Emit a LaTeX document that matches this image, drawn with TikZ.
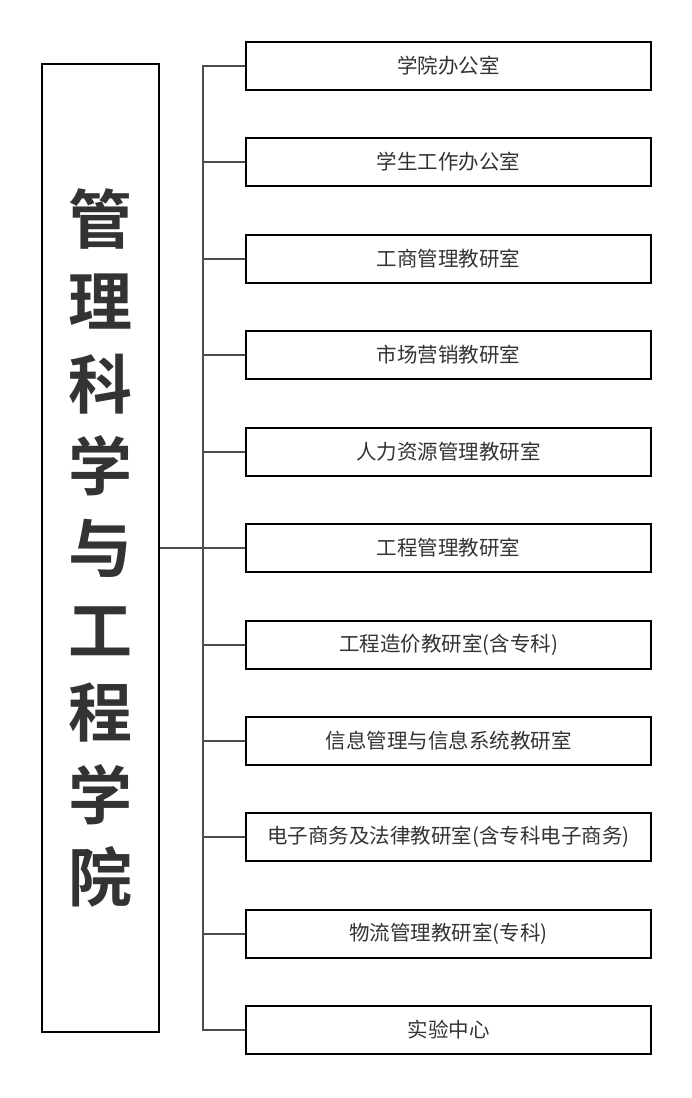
\documentclass[tikz,border=0pt]{standalone}
\usepackage{fontspec}
\newfontfamily\cjk{Noto Sans CJK SC}
\newfontfamily\cjkheavy{Noto Sans CJK SC Bold}
\tikzset{
  dept/.style={draw, line width=2pt, minimum width=405pt, minimum height=48pt,
    text=black!80, font=\cjk\fontsize{20.5}{20.5}\selectfont},
  school/.style={draw, line width=2pt, minimum width=117pt, minimum height=968pt,
    align=center, text=black!80, font=\cjkheavy\fontsize{64}{82.2}\selectfont},
  link/.style={line width=2pt, black!70}
}
\begin{document}
\begin{tikzpicture}[x=1pt, y=-1pt]
\useasboundingbox (0,0) rectangle (692,1098);
\node[school] (sch) at (100.5,548) {管\\理\\科\\学\\与\\工\\程\\学\\院};
\node[dept] (d1) at (448.5,66) {学院办公室};
\node[dept] (d2) at (448.5,162) {学生工作办公室};
\node[dept] (d3) at (448.5,259) {工商管理教研室};
\node[dept] (d4) at (448.5,355) {市场营销教研室};
\node[dept] (d5) at (448.5,452) {人力资源管理教研室};
\node[dept] (d6) at (448.5,548) {工程管理教研室};
\node[dept] (d7) at (448.5,645) {工程造价教研室(含专科)};
\node[dept] (d8) at (448.5,741) {信息管理与信息系统教研室};
\node[dept] (d9) at (448.5,837) {电子商务及法律教研室(含专科电子商务)};
\node[dept] (d10) at (448.5,934) {物流管理教研室(专科)};
\node[dept] (d11) at (448.5,1030) {实验中心};
% trunk
\coordinate (bustop) at (203,66);
\coordinate (busbot) at (203,1030);
\draw[link] (d1.west) -- (bustop) -- (busbot) -- (d11.west);
\draw[link] (sch.east) -- (d6.west);
% branches
\draw[link] (d2.west) -- (d2.west -| bustop);
\draw[link] (d3.west) -- (d3.west -| bustop);
\draw[link] (d4.west) -- (d4.west -| bustop);
\draw[link] (d5.west) -- (d5.west -| bustop);
\draw[link] (d7.west) -- (d7.west -| bustop);
\draw[link] (d8.west) -- (d8.west -| bustop);
\draw[link] (d9.west) -- (d9.west -| bustop);
\draw[link] (d10.west) -- (d10.west -| bustop);
\end{tikzpicture}
\end{document}
